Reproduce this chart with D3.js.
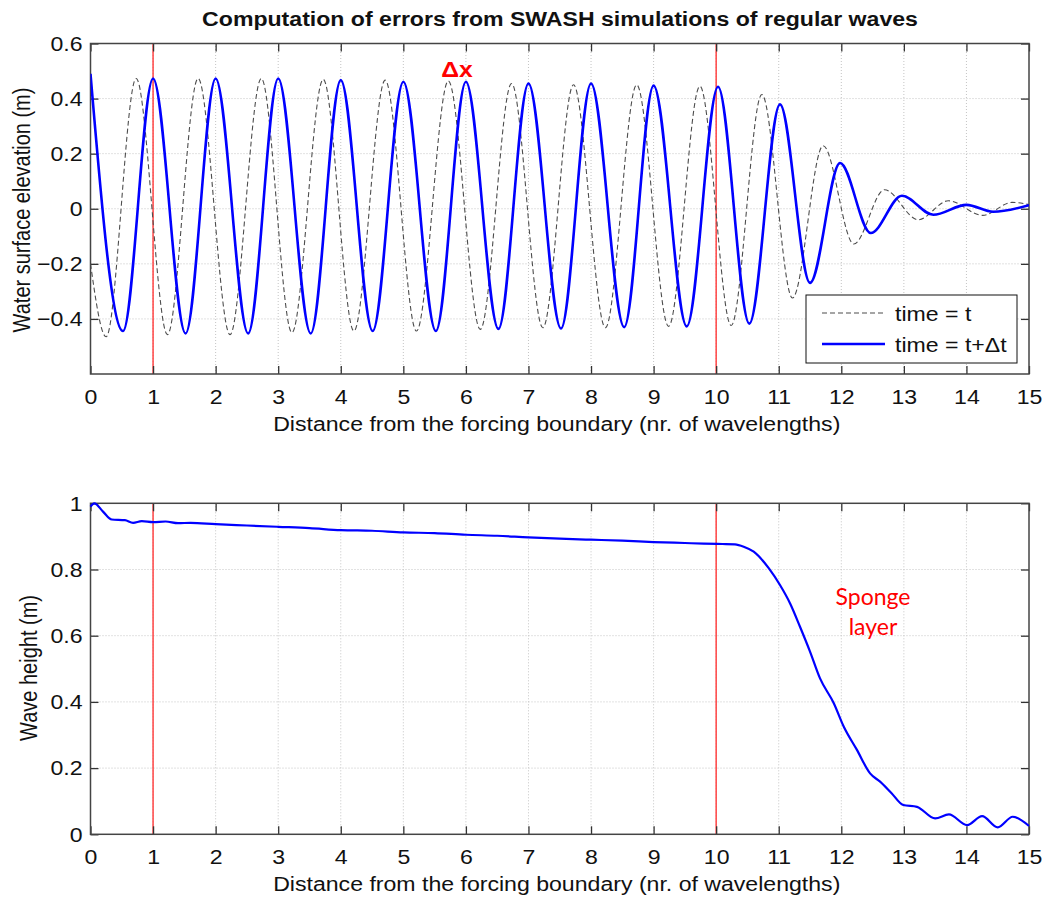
<!DOCTYPE html>
<html>
<head>
<meta charset="utf-8">
<script src="https://cdn.jsdelivr.net/npm/d3@7"></script>
<style>
  body { margin: 0; background: #fff; }
  svg text { font-family: "Liberation Sans", Arial, sans-serif; fill: #111; }
  .grid line { stroke: #c4c4c4; stroke-dasharray: 1,2; }
  .axis path { display: none; }
  .axis line { stroke: #333; stroke-width: 1.3; }
</style>
</head>
<body>
<div id="chart"></div>
<script>
// surface elevation at time t (extrema)
const waveTX = [0, 0.25, 0.73, 1.23, 1.72, 2.23, 2.73, 3.22, 3.72, 4.21, 4.71, 5.21, 5.72, 6.23, 6.73, 7.23,
  7.72, 8.23, 8.73, 9.24, 9.74, 10.24, 10.73, 11.22, 11.71, 12.2, 12.69, 13.23, 13.71, 14.26, 14.73, 15];
const waveTY = [-0.2, -0.465, 0.473, -0.457, 0.473, -0.457, 0.473, -0.45, 0.47, -0.444, 0.467, -0.444, 0.464, -0.438, 0.455, -0.432,
  0.45, -0.432, 0.45, -0.427, 0.445, -0.424, 0.415, -0.324, 0.229, -0.128, 0.069, -0.04, 0.029, -0.024, 0.023, 0.015];

// surface elevation at time t+dt
const waveDX = [0, 0.52, 1.0, 1.52, 2.0, 2.52, 3.0, 3.52, 4.0, 4.51, 5.0, 5.52, 6.0, 6.52, 7.0, 7.52,
  8.0, 8.53, 9.0, 9.53, 10.03, 10.53, 11.02, 11.5, 11.98, 12.47, 12.97, 13.47, 14.0, 14.43, 15];
const waveDY = [0.49, -0.444, 0.473, -0.453, 0.473, -0.453, 0.473, -0.453, 0.467, -0.444, 0.461, -0.444, 0.461, -0.436, 0.455, -0.435,
  0.455, -0.43, 0.447, -0.427, 0.443, -0.417, 0.379, -0.269, 0.166, -0.088, 0.047, -0.022, 0.014, -0.011, 0.013];

// wave height
const heightX = [0, 0.06, 0.2, 0.34, 0.55, 0.68, 0.82, 1.0, 1.2, 1.4, 1.6, 2.0, 2.5, 3.0, 3.5, 4.0, 4.5, 5.0, 5.5, 6.0,
  6.5, 7.0, 7.5, 8.0, 8.5, 9.0, 9.5, 9.8, 10.1, 10.3, 10.44, 10.6, 10.84, 11.02, 11.18, 11.34, 11.5, 11.66, 11.88, 12.04,
  12.25, 12.46, 12.62, 12.8, 12.99, 13.21, 13.5, 13.72, 14.01, 14.25, 14.5, 14.74, 15.0];
const heightY = [0.99, 1.0, 0.975, 0.951, 0.949, 0.941, 0.946, 0.943, 0.945, 0.94, 0.941, 0.937, 0.933, 0.929, 0.925, 0.919, 0.917, 0.912, 0.91, 0.905,
  0.902, 0.897, 0.893, 0.89, 0.887, 0.883, 0.88, 0.878, 0.877, 0.876, 0.869, 0.854, 0.804, 0.753, 0.698, 0.627, 0.552, 0.471, 0.396, 0.325,
  0.255, 0.184, 0.159, 0.125, 0.0885, 0.083, 0.048, 0.06, 0.028, 0.055, 0.021, 0.053, 0.025];

const xTicks = d3.range(0, 16);
const elevTicks = [-0.4, -0.2, 0, 0.2, 0.4, 0.6];
const heightTicks = [0, 0.2, 0.4, 0.6, 0.8, 1];
const markerX = [1, 10];

const width = 1045, height = 899;
const fs = 21;      // font size
const sx = 1.1;     // the reference text is a little wide
const svg = d3.select("#chart").append("svg").attr("width", width).attr("height", height);

const x = d3.scaleLinear().domain([0, 15]).range([90.5, 1029]);
const yTop = d3.scaleLinear().domain([-0.6, 0.6]).range([374, 43.5]);
const yBot = d3.scaleLinear().domain([0, 1]).range([834.3, 503.3]);

// horizontal text placed at (px,py), widened by sx
function label(px, py, str, size, anchor) {
  return svg.append("text").attr("transform", `translate(${px},${py}) scale(${sx},1)`)
    .attr("text-anchor", anchor || "middle").attr("font-size", size || fs).text(str);
}

// rotated y label, glyphs thickened the same way
function yLabel(px, py, str) {
  return svg.append("text").attr("transform", `translate(${px},${py}) rotate(-90) scale(1,1.15)`)
    .attr("text-anchor", "middle").attr("font-size", 20).text(str);
}

function panel(y, yTicks, yFmt) {
  const [y0, y1] = y.range();
  const g = svg.append("g");

  // dotted grid
  g.append("g").attr("class", "grid").selectAll("line").data(xTicks.slice(1, -1)).join("line")
    .attr("x1", d => x(d)).attr("x2", d => x(d)).attr("y1", y0).attr("y2", y1);
  g.append("g").attr("class", "grid").selectAll("line").data(yTicks.filter(d => y(d) < y0 - 1 && y(d) > y1 + 1)).join("line")
    .attr("x1", x(0)).attr("x2", x(15)).attr("y1", d => y(d)).attr("y2", d => y(d));

  // red marker lines
  g.selectAll(".marker").data(markerX).join("line")
    .attr("x1", d => x(d)).attr("x2", d => x(d)).attr("y1", y0).attr("y2", y1)
    .attr("stroke", "#ff4444").attr("stroke-width", 1.5);

  // axes with inward ticks
  const bottom = g.append("g").attr("class", "axis").attr("transform", `translate(0,${y0})`)
    .call(d3.axisBottom(x).tickValues(xTicks).tickSize(-8).tickPadding(15).tickFormat(d3.format("d")));
  bottom.selectAll("text").attr("font-size", fs).attr("transform", `scale(${sx},1)`);
  g.append("g").attr("class", "axis").attr("transform", `translate(0,${y1})`)
    .call(d3.axisTop(x).tickValues(xTicks).tickSize(-8).tickFormat(""));
  const left = g.append("g").attr("class", "axis").attr("transform", `translate(${x(0)},0)`)
    .call(d3.axisLeft(y).tickValues(yTicks).tickSize(-8).tickFormat(yFmt));
  left.selectAll("text").attr("font-size", fs).attr("x", -8 / sx).attr("transform", `scale(${sx},1)`);
  g.append("g").attr("class", "axis").attr("transform", `translate(${x(15)},0)`)
    .call(d3.axisRight(y).tickValues(yTicks).tickSize(-8).tickFormat(""));

  g.append("rect").attr("x", x(0)).attr("y", y1).attr("width", x(15) - x(0)).attr("height", y0 - y1)
    .attr("fill", "none").attr("stroke", "#444").attr("stroke-width", 1.5);

  label((x(0) + x(15)) / 2 - 3, y0 + 57, "Distance from the forcing boundary (nr. of wavelengths)");
  return g;
}

const fmt = d => (d === 0 ? "0" : d3.format(".1f")(d));

// top panel
const gTop = panel(yTop, elevTicks, fmt);
svg.append("clipPath").attr("id", "clipTop").append("rect")
  .attr("x", x(0)).attr("y", yTop(0.6)).attr("width", x(15) - x(0)).attr("height", yTop(-0.6) - yTop(0.6));

const lineTop = d3.line().x(d => x(d[0])).y(d => yTop(d[1])).curve(d3.curveMonotoneX);
gTop.append("path").datum(d3.zip(waveTX, waveTY)).attr("d", lineTop).attr("clip-path", "url(#clipTop)")
  .attr("fill", "none").attr("stroke", "#4d4d4d").attr("stroke-width", 1.1).attr("stroke-dasharray", "5,3");
gTop.append("path").datum(d3.zip(waveDX, waveDY)).attr("d", lineTop).attr("clip-path", "url(#clipTop)")
  .attr("fill", "none").attr("stroke", "#0000ff").attr("stroke-width", 2.6);

label(560, 26, "Computation of errors from SWASH simulations of regular waves", 21).attr("font-weight", "bold");
yLabel(30, 210, "Water surface elevation (m)");
label(457, 77, "Δx", 22.5).attr("font-weight", "bold").style("fill", "#ff0000");

// legend
const lg = svg.append("g");
lg.append("rect").attr("x", 806).attr("y", 295).attr("width", 211).attr("height", 68)
  .attr("fill", "#fff").attr("stroke", "#111").attr("stroke-width", 1);
lg.append("line").attr("x1", 822).attr("x2", 885).attr("y1", 313).attr("y2", 313)
  .attr("stroke", "#4d4d4d").attr("stroke-width", 1.1).attr("stroke-dasharray", "5,3");
lg.append("line").attr("x1", 822).attr("x2", 885).attr("y1", 344).attr("y2", 344)
  .attr("stroke", "#0000ff").attr("stroke-width", 2.6);
label(895, 321, "time = t", fs, "start");
label(895, 352, "time = t+Δt", fs, "start");

// bottom panel
const gBot = panel(yBot, heightTicks, d => (d === 0 || d === 1 ? String(d) : d3.format(".1f")(d)));
const lineBot = d3.line().x(d => x(d[0])).y(d => yBot(d[1])).curve(d3.curveMonotoneX);
gBot.append("path").datum(d3.zip(heightX, heightY)).attr("d", lineBot)
  .attr("fill", "none").attr("stroke", "#0000ff").attr("stroke-width", 2.2);

yLabel(37, 668, "Wave height (m)");
const sponge = svg.append("text").attr("text-anchor", "middle").attr("font-size", 23)
  .style("fill", "#ff0000").style("font-family", "Lato, sans-serif");
sponge.append("tspan").attr("x", 873).attr("y", 605).text("Sponge");
sponge.append("tspan").attr("x", 873).attr("y", 635).text("layer");
</script>
</body>
</html>
